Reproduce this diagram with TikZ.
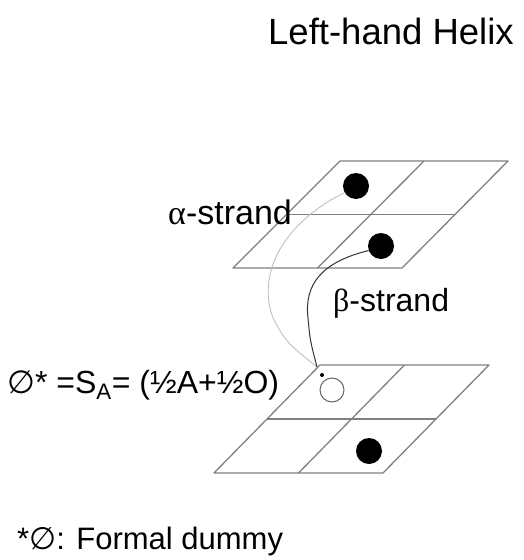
\documentclass[tikz,border=0pt]{standalone}
\usepackage{fontspec}
\setmainfont{Liberation Sans}
\newfontfamily\symfont{DejaVu Sans}
\newfontfamily\grk{Liberation Serif}
\usetikzlibrary{calc}
\begin{document}
\begin{tikzpicture}[x=1pt,y=-1pt,
  gridline/.style={draw=black!50, line width=1.3pt, line join=round},
  fulldot/.style={circle, fill=black, inner sep=0pt, minimum size=26pt},
  opendot/.style={circle, draw=black!60, line width=1pt, inner sep=0pt, minimum size=24pt},
  lbl/.style={anchor=base west, inner sep=0pt, font=\fontsize{32}{36}\selectfont},
  betaline/.style={draw=black!80, line width=1pt},
  alphaline/.style={draw=black!25, line width=0.9pt}]
\useasboundingbox (0,0) rectangle (523,560);
% top grid
\coordinate (t1) at (340,161);
\coordinate (t2) at (508,161);
\coordinate (t3) at (402,268);
\coordinate (t4) at (233,268);
\draw[gridline] (t1) -- (t2) -- (t3) -- (t4) -- cycle;
\draw[gridline] ($(t1)!0.5!(t4)$) -- ($(t2)!0.5!(t3)$);
\draw[gridline] ($(t1)!0.5!(t2)$) -- ($(t4)!0.5!(t3)$);
% bottom grid
\coordinate (b1) at (320,365);
\coordinate (b2) at (489,365);
\coordinate (b3) at (383,473);
\coordinate (b4) at (214,473);
\draw[gridline] (b1) -- (b2) -- (b3) -- (b4) -- cycle;
\draw[gridline] ($(b1)!0.5!(b4)$) -- ($(b2)!0.5!(b3)$);
\draw[gridline] ($(b1)!0.5!(b2)$) -- ($(b4)!0.5!(b3)$);
% dots
\node[fulldot] (d1) at (356,186) {};
\node[fulldot] (d2) at (381,246) {};
\node[fulldot] (d3) at (369,451) {};
\node[opendot] (o1) at (332,390) {};
\coordinate (e) at (317,367);
\node[circle, fill=black, inner sep=0pt, minimum size=4pt] (tip) at (322,375) {};
% strands
\draw[alphaline] (d1.210) .. controls (285,222) and (256,272) .. (273,318) .. controls (286,342) .. (e);
\draw[betaline] (d2.200) .. controls (322,262) and (304,284) .. (308,318) .. controls (310,340) .. (e);
% labels
\node[lbl, font=\fontsize{36.5}{40}\selectfont] (title) at (268,44) {Left-hand Helix};
\node[lbl, font=\fontsize{34}{38}\selectfont] (alpha) at (168,224) {{\grk α}-strand};
\node[lbl] (beta) at (333,311) {{\grk β}-strand};
\node[lbl] (sa) at (7,393) {{\symfont ∅}* =S\textsubscript{A}= (½A+½O)};
\node[lbl, font=\fontsize{31}{35}\selectfont] (note) at (17,549) {*{\symfont ∅}: Formal dummy};
\end{tikzpicture}
\end{document}
